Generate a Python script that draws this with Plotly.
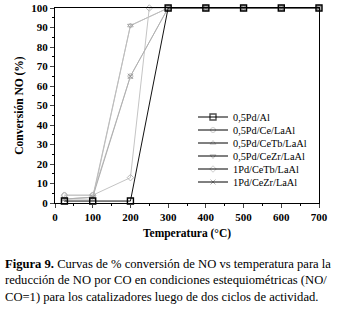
import plotly.graph_objects as go

temps = [25, 100, 200, 300, 400, 500, 600, 700]
pd_al = [1, 1, 1, 100, 100, 100, 100, 100]
temps_ce = [25, 100, 200, 300, 400, 500, 600, 700]
pd_ce = [4, 4, 65, 100, 100, 100, 100, 100]
temps_cetb = [25, 100, 200, 300, 400, 500, 600, 700]
pd_cetb = [2, 2, 91, 100, 100, 100, 100, 100]
temps_cezr = [25, 100, 200, 300, 400, 500, 600, 700]
pd_cezr = [2, 3, 91, 100, 100, 100, 100, 100]
temps_1cetb = [25, 100, 200, 250, 300, 400, 500, 600, 700]
pd1_cetb = [4, 4, 13, 100, 100, 100, 100, 100, 100]
temps_1cezr = [25, 100, 200, 300, 400, 500, 600, 700]
pd1_cezr = [2, 3, 65, 100, 100, 100, 100, 100]

names = ["0,5Pd/Al", "0,5Pd/Ce/LaAl", "0,5Pd/CeTb/LaAl", "0,5Pd/CeZr/LaAl",
         "1Pd/CeTb/LaAl", "1Pd/CeZr/LaAl"]
xs = [temps, temps_ce, temps_cetb, temps_cezr, temps_1cetb, temps_1cezr]
ys = [pd_al, pd_ce, pd_cetb, pd_cezr, pd1_cetb, pd1_cezr]
symbols = ["square-open", "circle-open", "triangle-up-open", "triangle-down-open",
           "diamond-open", "x-thin-open"]
line_colors = ["#111111", "#c4c4c4", "#c4c4c4", "#bdbdbd", "#c4c4c4", "#b0b0b0"]
marker_colors = ["#000000", "#b8b8b8", "#b8b8b8", "#a8a8a8", "#b8b8b8", "#909090"]

serif = "Liberation Serif"

# plot area in pixels (for the hand-drawn legend)
L, R, T, B = 55, 319, 8, 203
W, H = R - L, B - T
XMAX, YMAX = 700, 100
def px(x):
    return (x - L) / W
def py(y):
    return (B - y) / H

fig = go.Figure()
for i in [1, 2, 3, 4, 5, 0]:
    fig.add_trace(go.Scatter(
        x=xs[i], y=ys[i], name=names[i], mode="lines+markers",
        line=dict(color=line_colors[i], width=1),
        marker=dict(symbol=symbols[i], size=6 if i == 0 else 5,
                    color=marker_colors[i],
                    line=dict(color=marker_colors[i], width=1.4 if i == 0 else 1)),
        cliponaxis=False, showlegend=False,
    ))

# hand-drawn compact legend
leg_x0, leg_x1, leg_text = 198, 228, 231
leg_rows = [117, 130, 143, 156, 169, 182]
for i, yy in enumerate(leg_rows):
    fig.add_shape(type="line", xref="paper", yref="paper",
                  x0=px(leg_x0), x1=px(leg_x1), y0=py(yy), y1=py(yy),
                  line=dict(color="black", width=1))
    fig.add_annotation(text=names[i], xref="paper", yref="paper",
                       x=px(leg_text), y=py(yy), xanchor="left", yanchor="middle",
                       showarrow=False, font=dict(family=serif, size=10.3, color="black"))
fig.add_trace(go.Scatter(
    x=[px((leg_x0 + leg_x1) / 2) * XMAX] * 6, y=[py(v) * YMAX for v in leg_rows],
    mode="markers", showlegend=False, hoverinfo="skip", cliponaxis=False,
    marker=dict(symbol=symbols, size=[6, 5, 5, 5, 5, 5], color=marker_colors,
                line=dict(color=marker_colors, width=[1.4, 1, 1, 1, 1, 1])),
))

fig.update_layout(
    width=345, height=310,
    margin=dict(l=L, r=345 - R, t=T, b=310 - B),
    paper_bgcolor="white", plot_bgcolor="white",
    font=dict(family=serif, size=10, color="black"),
    showlegend=False,
    xaxis=dict(range=[0, XMAX], tick0=0, dtick=100, ticks="outside", ticklen=4,
               tickwidth=1, showline=True, linecolor="black", linewidth=1.2,
               mirror=True, showgrid=False, zeroline=False, automargin=False,
               minor=dict(dtick=50, ticks="outside", ticklen=2, tickcolor="black"),
               tickfont=dict(family=serif, size=11, weight="bold"),
               title=dict(text="<b>Temperatura (°C)</b>", standoff=6,
                          font=dict(family=serif, size=11.5))),
    yaxis=dict(range=[0, YMAX], tick0=0, dtick=10, ticks="outside", ticklen=4,
               tickwidth=1, showline=True, linecolor="black", linewidth=1.2,
               mirror=True, showgrid=False, zeroline=False, automargin=False,
               minor=dict(dtick=5, ticks="outside", ticklen=2, tickcolor="black"),
               tickfont=dict(family=serif, size=11, weight="bold"),
               title=dict(text="<b>Conversión NO (%)</b>", standoff=5,
                          font=dict(family=serif, size=11.5))),
)

caption = ("<b>Figura 9.</b> Curvas de % conversión de NO vs temperatura para la<br>"
           "reducción de NO por CO en condiciones estequiométricas (NO/<br>"
           "CO=1) para los catalizadores luego de dos ciclos de actividad.")
fig.add_annotation(text=caption, xref="paper", yref="paper",
                   x=px(3), y=py(255),
                   xanchor="left", yanchor="top", align="left", showarrow=False,
                   font=dict(family=serif, size=12.6, color="black"))

fig.write_html("out.html",
               config={"displayModeBar": False},
               post_script="document.body.style.margin='0';")
